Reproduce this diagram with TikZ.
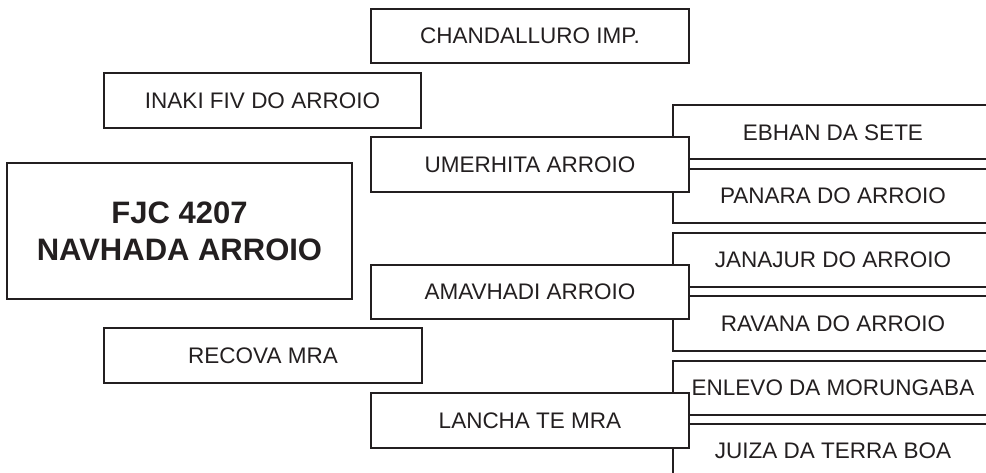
\documentclass[tikz,border=0pt]{standalone}
\usepackage{fontspec}
\setmainfont{Liberation Sans}
\usepackage{xcolor}
\usepackage{tikz}
\usetikzlibrary{positioning}
\definecolor{ink}{RGB}{35,31,32}

\begin{document}
\begin{tikzpicture}[
                x=1pt, y=-1pt,
                font=\fontsize{22.5}{27}\selectfont,
                entry/.style={draw=ink, text=ink, line width=2pt, fill=white, inner sep=0pt, minimum width=318pt, minimum height=54pt},
                dam/.style={entry, minimum width=320pt},
                subject/.style={entry, align=center, minimum width=345pt, minimum height=136pt, font=\fontsize{31}{37}\selectfont\bfseries}
            ]
            \useasboundingbox (0,0) rectangle (986,473);
            \clip (0,0) rectangle (986,473);
            % third generation, open to the right
            \node[dam] (ebhan) at (833,132.5) {EBHAN DA SETE};
            \node[dam] (panara) at (833,196) {PANARA DO ARROIO};
            \node[dam] (janajur) at (833,260) {JANAJUR DO ARROIO};
            \node[dam] (ravana) at (833,323.5) {RAVANA DO ARROIO};
            \node[dam] (enlevo) at (833,388) {ENLEVO DA MORUNGABA};
            \node[dam] (juiza) at (833,451) {JUIZA DA TERRA BOA};
            % second generation
            \node[entry] (chandalluro) at (530,36) {CHANDALLURO IMP.};
            \node[entry, minimum height=55pt] (umerhita) at (530,164.5) {UMERHITA ARROIO};
            \node[entry] (amavhadi) at (530,292) {AMAVHADI ARROIO};
            \node[entry, minimum height=55pt] (lancha) at (530,420.5) {LANCHA TE MRA};
            % first generation
            \node[entry, minimum width=317pt, minimum height=55pt] (inaki) at (262.5,100.5) {INAKI FIV DO ARROIO};
            \node[entry, minimum height=55pt] (recova) at (263,355.5) {RECOVA MRA};
            \node[subject] (navhada) at (179.5,231) {FJC 4207\\NAVHADA ARROIO};
        \end{tikzpicture}
\end{document}
